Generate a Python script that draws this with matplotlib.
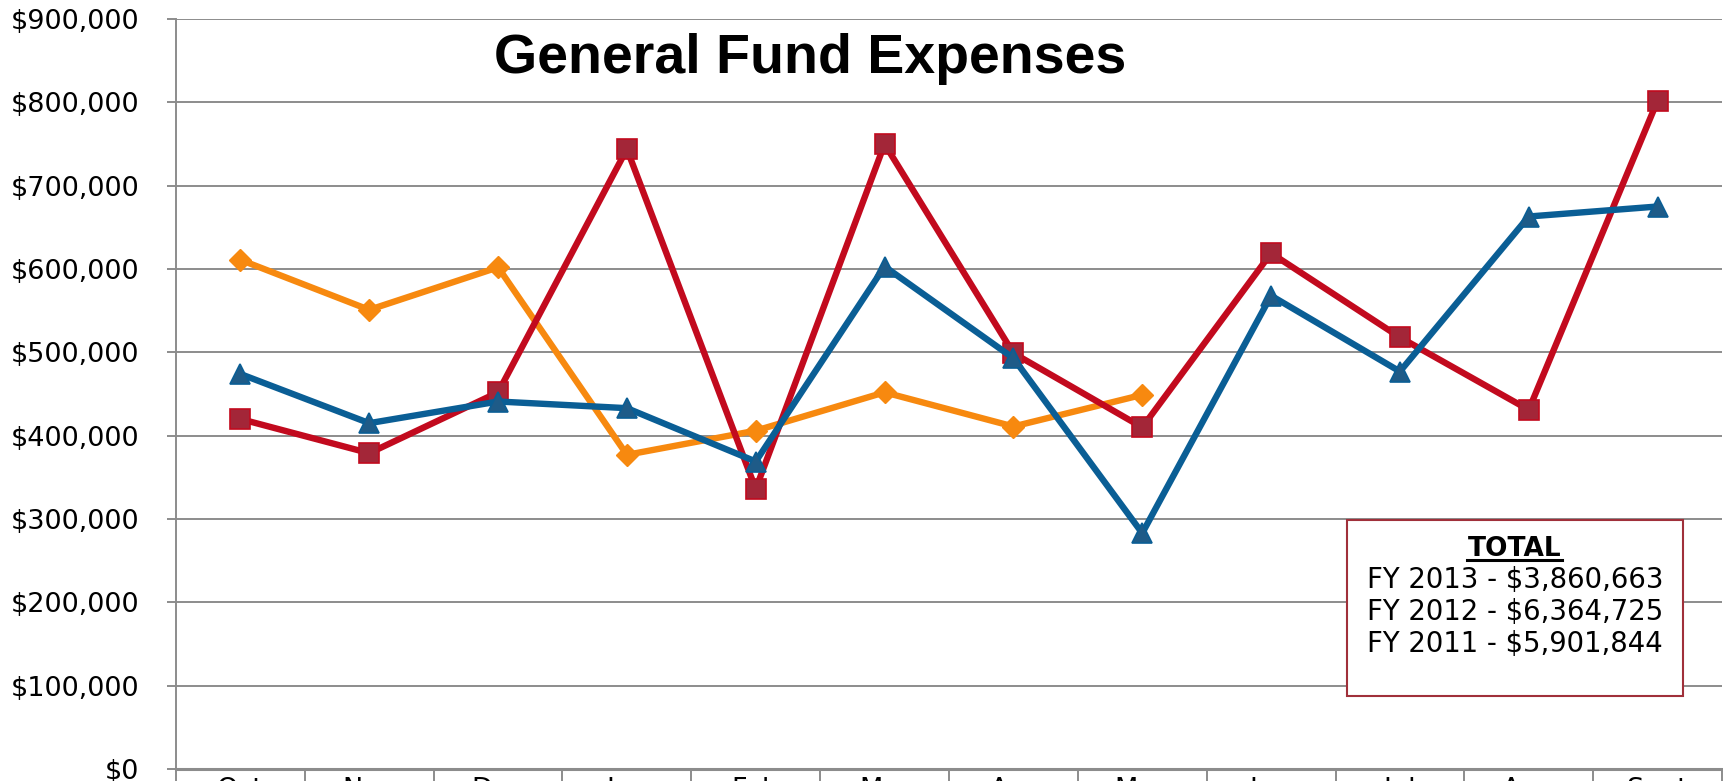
import numpy as np
import matplotlib
matplotlib.use('Agg')
import matplotlib.pyplot as plt
from matplotlib.patches import Rectangle
from matplotlib.lines import Line2D
from matplotlib.ticker import FuncFormatter, FixedLocator

months = ['Oct', 'Nov', 'Dec', 'Jan', 'Feb', 'Mar', 'Apr', 'May',
          'Jun', 'Jul', 'Aug', 'Sept']

# FY 2013 only runs Oct - May
fy2013 = [611000, 551000, 602000, 377000, 406000, 452000, 411000, 449000]
fy2012 = [420000, 379000, 452000, 744000, 336000, 750000, 499000, 410000,
          619000, 518000, 431000, 802000]
fy2011 = [474000, 415000, 441000, 433000, 369000, 603000, 493000, 283000,
          568000, 477000, 663000, 675000]

totals = ['FY 2013 - $3,860,663', 'FY 2012 - $6,364,725',
          'FY 2011 - $5,901,844']

W, H = 1723, 781
fig = plt.figure(figsize=(W / 100, H / 100), dpi=100)
ax = fig.add_axes([176 / W, (H - 769) / H, (1722 - 176) / W, (769 - 19) / H])

x = np.arange(len(months))
grid_c = '#8c8c8c'

ax.plot(x[:len(fy2013)], fy2013, color='#f7890f', lw=4.6, marker='D', ms=11,
        mfc='#f7890f', mec='#f7890f', zorder=3)
ax.plot(x, fy2012, color='#c20a1e', lw=4.6, marker='s', ms=14,
        mfc='#a32638', mec='#c20a1e', mew=1.2, zorder=4)
ax.plot(x, fy2011, color='#0a5e95', lw=4.6, marker='^', ms=15,
        mfc='#1e5b88', mec='#0a5e95', mew=1.2, zorder=5)

ax.set_xlim(-0.5, 11.5)
ax.set_ylim(0, 900000)
ax.set_yticks(np.arange(0, 900001, 100000))
ax.yaxis.set_major_formatter(FuncFormatter(lambda v, p: '${:,.0f}'.format(v)))
ax.grid(axis='y', color=grid_c, lw=1.4, zorder=0)

ax.set_xticks(x)
ax.set_xticklabels(months)
ax.xaxis.set_minor_locator(FixedLocator(np.arange(-0.5, 12, 1)))
ax.tick_params(axis='x', which='major', length=0, pad=5.8, labelsize=19.5)
ax.tick_params(axis='x', which='minor', length=14, width=1.4, color=grid_c)
ax.tick_params(axis='y', length=6.5, width=1.4, color=grid_c, pad=20,
               labelsize=19.5)

for s in ['top', 'right']:
    ax.spines[s].set_visible(False)
ax.spines['left'].set_color(grid_c)
ax.spines['left'].set_linewidth(1.4)
ax.spines['bottom'].set_color(grid_c)
ax.spines['bottom'].set_linewidth(2.2)

fig.text(810 / W, 1 - 73 / H, 'General Fund Expenses', ha='center',
         va='baseline', fontsize=40, fontweight='bold',
         family='Liberation Sans')

# totals box
fig.patches.append(Rectangle((1347 / W, 1 - 696 / H), (1683 - 1347) / W,
                             (696 - 520) / H, transform=fig.transFigure,
                             fill=True, facecolor='white', edgecolor='#a0303a',
                             lw=1.5, zorder=10))
fig.text(1515 / W, 1 - 556 / H, 'TOTAL', ha='center', va='baseline',
         fontsize=19, fontweight='bold', zorder=11)
fig.add_artist(Line2D([1467 / W, 1562 / W], [1 - 560 / H, 1 - 560 / H],
                      transform=fig.transFigure, color='black', lw=2.2,
                      zorder=11))
for i, t in enumerate(totals):
    fig.text(1515 / W, 1 - (588 + 32 * i) / H, t, ha='center',
             va='baseline', fontsize=19.8, zorder=11)

fig.savefig('out.png', dpi=100)
